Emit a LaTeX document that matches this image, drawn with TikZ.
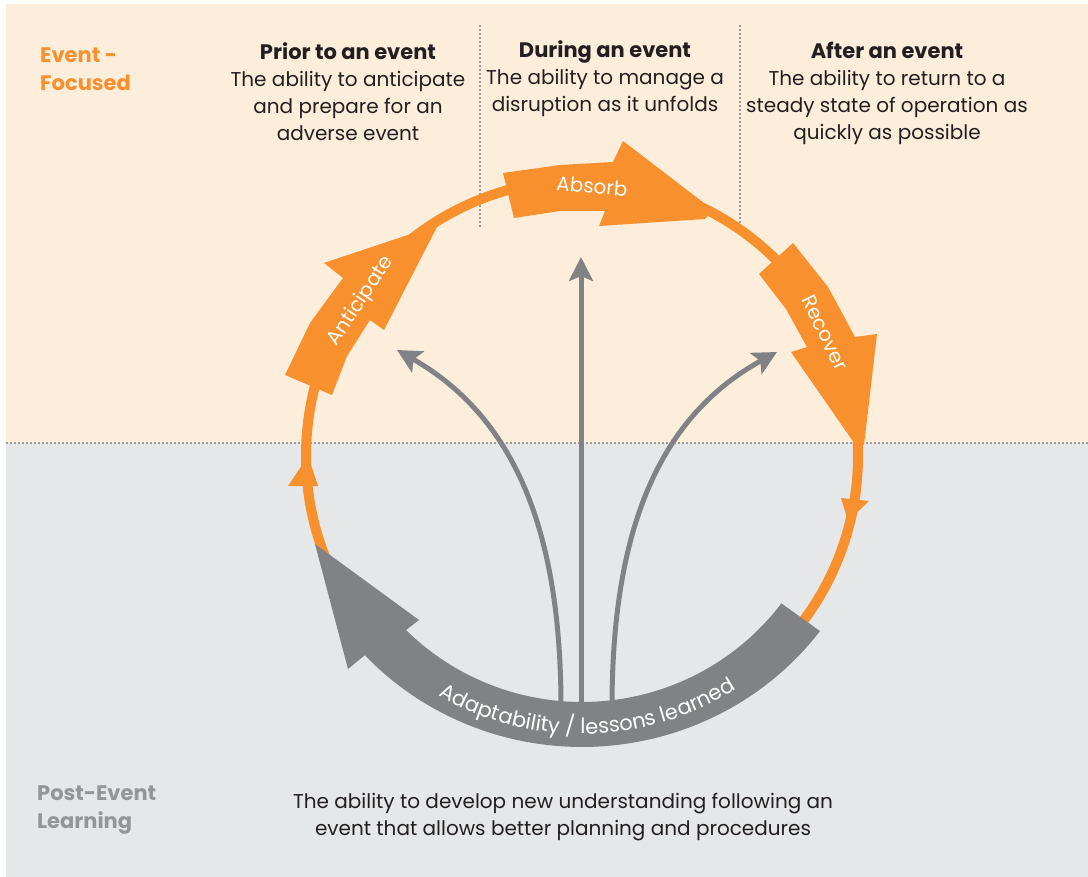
\documentclass[tikz,border=0pt]{standalone}
\usepackage{fontspec}
\setmainfont{Poppins}
\usetikzlibrary{arrows.meta,decorations.text}
\definecolor{rcorange}{HTML}{F7902D}
\definecolor{rcgray}{HTML}{808285}
\definecolor{rcpeach}{HTML}{FDEEDC}
\definecolor{rcmist}{HTML}{E6E7E8}
\definecolor{rcdot}{HTML}{9A9A9A}
\definecolor{rcmuted}{HTML}{939598}
\definecolor{rcink}{HTML}{231F20}
\tikzset{
  rcphase/.style={anchor=north, align=center, inner sep=0pt, text=rcink,
                  font=\fontsize{20}{27}\selectfont},
  rcside/.style={anchor=north west, align=left, inner sep=0pt,
                 font=\bfseries\fontsize{21}{28}\selectfont},
  rcdots/.style={draw=rcdot, line width=2pt, dash pattern=on 2pt off 2pt},
  rcring/.style={draw=rcorange, line width=10pt},
  rcwedge/.style={fill=rcorange},
  rcwedgelabel/.style={text=white, inner sep=0pt,
                       font=\fontsize{20}{24}\selectfont},
  rcfeedback/.style={draw=rcgray, line width=5pt,
                     -{Stealth[length=24pt, width=24pt, inset=5pt]}}
}
\newcommand{\rcbandfont}{\fontsize{21}{24}\selectfont}
\newcommand{\rchead}[1]{{\bfseries\fontsize{21}{27}\selectfont #1}}

\begin{document}
\begin{tikzpicture}[x=1pt, y=-1pt]
  \useasboundingbox (0,0) rectangle (1088,877);
  \fill[rcpeach] (6,4) rectangle (1088,443);
  \fill[rcmist] (6,443) rectangle (1088,877);
  \draw[rcdots] (6,443) -- (1088,443);
  \foreach \col in {480,740} { \draw[rcdots] (\col,25) -- (\col,228); }

  \coordinate (lft-foot) at (561,702);
  \coordinate (lft-tip) at (397,350);
  \coordinate (mid-foot) at (581,702);
  \coordinate (mid-tip) at (581,257);
  \coordinate (rgt-foot) at (612,702);
  \coordinate (rgt-tip) at (777,352);
  \draw[rcfeedback] (mid-foot) -- (mid-tip);
  \draw[rcfeedback] (lft-foot) .. controls (560,540) and (520,420) .. (lft-tip);
  \draw[rcfeedback] (rgt-foot) .. controls (613,540) and (653,420) .. (rgt-tip);

  \coordinate (hub) at (582,456);
  \draw[rcring] (hub) circle[radius=276pt];
  \fill[rcwedge] (288,486) -- (308,456) -- (318,486) -- cycle;
  \fill[rcwedge] (841,498) -- (869,501) -- (848,521) -- cycle;

  \fill[rcwedge] (285,375) -- (310,323) -- (343,278) -- (324,263) -- (438,225)
    -- (384,330) -- (370,320) -- (347,356) -- (332,395) -- cycle;
  \fill[rcwedge] (503,173) -- (560,165) -- (613,162) -- (623,141) -- (713,210)
    -- (705,219) -- (599,226) -- (605,211) -- (560,211) -- (514,218) -- cycle;
  \fill[rcwedge] (759,274) -- (793,243) -- (828,287) -- (855,337) -- (877,334)
    -- (864,445) -- (852,440) -- (791,352) -- (807,347) -- (786,309) -- cycle;
  \node[rcwedgelabel, rotate=56] (anticipate) at (361,301) {Anticipate};
  \node[rcwedgelabel, rotate=-5] (absorb) at (592,186) {Absorb};
  \node[rcwedgelabel, rotate=-64] (recover) at (825,333) {Recover};

  \fill[rcgray] plot[domain=37:136.8, samples=60]
      ({582+298*cos(\x)}, {456+291*sin(\x)})
    -- (348,669) -- (315,544) -- (419,620) -- (406,630)
    -- plot[domain=135.3:36.8, samples=60]
      ({582+249*cos(\x)}, {456+246*sin(\x)}) -- cycle;
  \path[decorate, decoration={text along path, text align=center,
      text color=white, text={|\rcbandfont|Adaptability / lessons learned}}]
    plot[domain=127.75:49.75, samples=60] ({582+284*cos(\x)}, {456+278*sin(\x)});

  \node[rcside, text=rcorange] (focused) at (40,48) {Event -\\Focused};
  \node[rcside, text=rcmuted] (postevent) at (37,786) {Post-Event\\Learning};
  \node[rcphase] (prior) at (348,42)
    {\rchead{Prior to an event}\\The ability to anticipate\\and prepare for an\\adverse event};
  \node[rcphase] (during) at (605,40)
    {\rchead{During an event}\\The ability to manage a\\disruption as it unfolds};
  \node[rcphase] (after) at (887,42)
    {\rchead{After an event}\\The ability to return to a\\steady state of operation as\\quickly as possible};
  \node[rcphase] (lessons) at (563,793)
    {The ability to develop new understanding following an\\event that allows better planning and procedures};
\end{tikzpicture}
\end{document}
